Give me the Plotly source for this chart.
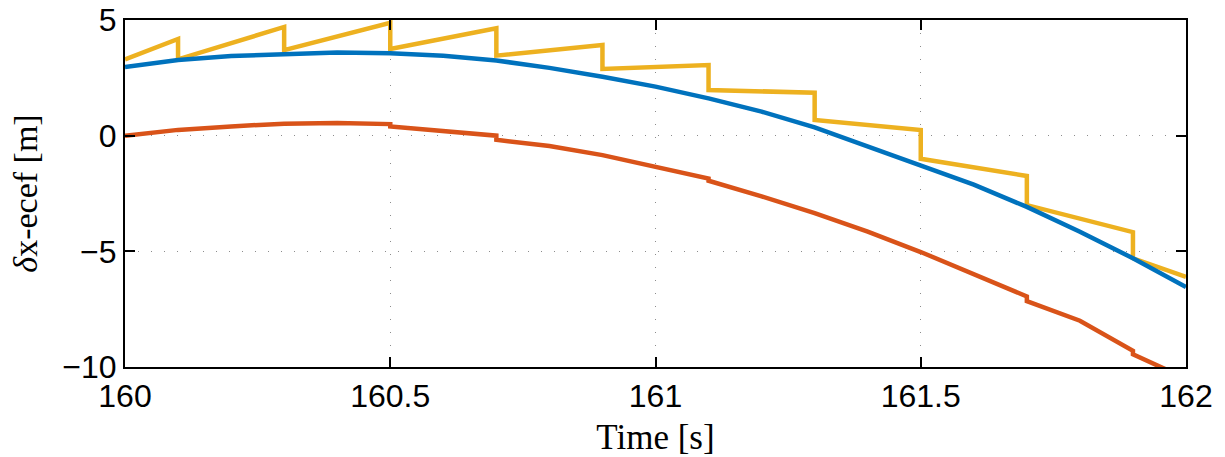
import plotly.graph_objects as go

# blue: estimate, sampled every 0.1 s
t_blue = [160.0, 160.1, 160.2, 160.3, 160.4, 160.5, 160.6, 160.7, 160.8, 160.9, 161.0,
          161.1, 161.2, 161.3, 161.4, 161.5, 161.6, 161.7, 161.8, 161.9, 162.0]
dx_blue = [2.97, 3.27, 3.44, 3.53, 3.6, 3.56, 3.45, 3.25, 2.93, 2.55, 2.12,
           1.61, 1.04, 0.36, -0.48, -1.27, -2.12, -3.08, -4.15, -5.3, -6.54]

# red: small steps at the update epochs
t_red = [160.0, 160.1, 160.2, 160.3, 160.4, 160.5, 160.5, 160.6, 160.7, 160.7, 160.8, 160.9,
         161.0, 161.1, 161.1, 161.2, 161.3, 161.4, 161.5, 161.6, 161.7, 161.7, 161.8,
         161.9, 161.9, 162.0]
dx_red = [0.0, 0.25, 0.4, 0.52, 0.55, 0.5, 0.4, 0.2, 0.0, -0.18, -0.45, -0.84,
          -1.35, -1.85, -1.95, -2.62, -3.35, -4.15, -5.03, -6.0, -6.95, -7.15, -8.0,
          -9.3, -9.45, -10.5]

# yellow: sawtooth, resets every 0.2 s
t_yel = [160.0, 160.1, 160.1, 160.3, 160.3, 160.5, 160.5, 160.7, 160.7, 160.9, 160.9,
         161.1, 161.1, 161.3, 161.3, 161.5, 161.5, 161.7, 161.7, 161.9, 161.9, 162.0]
dx_yel = [3.3, 4.18, 3.3, 4.7, 3.7, 4.88, 3.75, 4.64, 3.46, 3.92, 2.88,
          3.05, 1.97, 1.86, 0.68, 0.24, -1.0, -1.74, -3.0, -4.17, -5.3, -6.1]

x_ticks = [160, 160.5, 161, 161.5, 162]
y_ticks = [-10, -5, 0, 5]

fig = go.Figure()
fig.add_trace(go.Scatter(x=t_yel, y=dx_yel, mode='lines', line=dict(color='#EDB120', width=4.5)))
fig.add_trace(go.Scatter(x=t_blue, y=dx_blue, mode='lines', line=dict(color='#0072BD', width=4.5)))
fig.add_trace(go.Scatter(x=t_red, y=dx_red, mode='lines', line=dict(color='#D95319', width=4.5)))

axis_style = dict(
    showline=True, linecolor='black', linewidth=2, mirror='ticks',
    ticks='inside', ticklen=10, tickwidth=1.5, tickcolor='black',
    showgrid=True, gridcolor='#8c8c8c', gridwidth=1, griddash='1px,12px',
    zeroline=False, automargin=False,
    tickfont=dict(family='Liberation Sans, Arial', size=32, color='black'),
)

fig.update_xaxes(range=[160, 162], tickvals=x_ticks, ticktext=[str(v) for v in x_ticks],
                 title=dict(text='Time [s]', standoff=14,
                            font=dict(family='Liberation Serif, DejaVu Serif', size=35, color='black')),
                 **axis_style)
fig.update_yaxes(range=[-10, 5], tickvals=y_ticks,
                 title=dict(text='<i>δ</i>x-ecef [m]', standoff=14,
                            font=dict(family='Liberation Serif, DejaVu Serif', size=34, color='black')),
                 **axis_style)

fig.update_layout(
    width=1225, height=457,
    margin=dict(l=125, r=39, t=20, b=90),
    plot_bgcolor='white', paper_bgcolor='white',
    showlegend=False,
)

# drop the default 8px page margin so the figure fills the window
fig.write_html("out.html", config={'displayModeBar': False},
               post_script="document.body.style.margin='0px';")
